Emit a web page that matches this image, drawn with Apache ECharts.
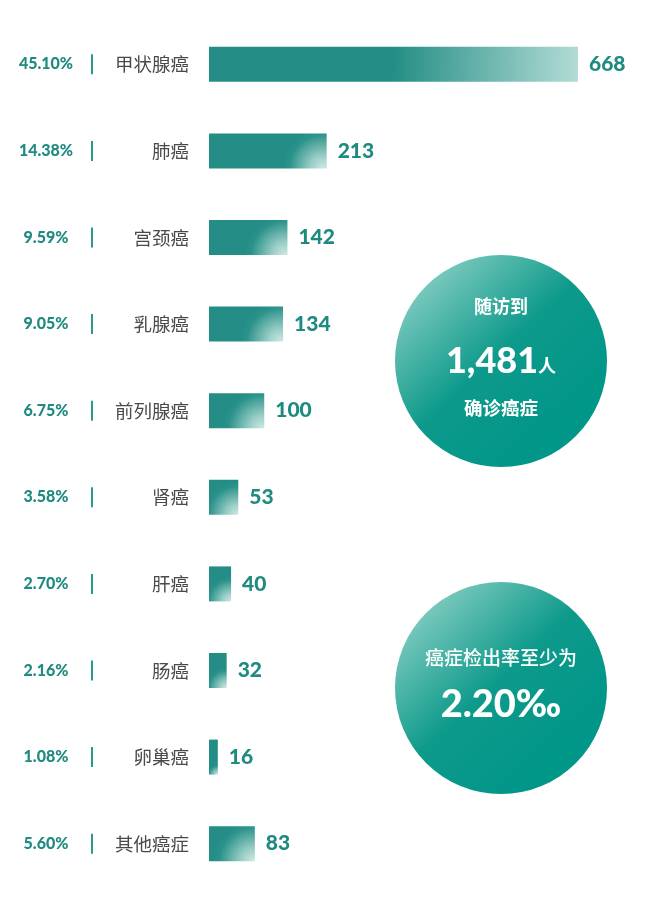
<!DOCTYPE html>
<html><head><meta charset="utf-8">
<script src="https://cdn.jsdelivr.net/npm/echarts@6/dist/echarts.min.js"></script>
<style>html,body{margin:0;padding:0;background:#fff}#c{width:652px;height:908px}</style>
</head><body><div id="c"></div>
<script>
const categories = ['甲状腺癌','肺癌','宫颈癌','乳腺癌','前列腺癌','肾癌','肝癌','肠癌','卵巢癌','其他癌症'];
const values = [668,213,142,134,100,53,40,32,16,83];
const percents = ['45.10%','14.38%','9.59%','9.05%','6.75%','3.58%','2.70%','2.16%','1.08%','5.60%'];
const circle1 = {top:'随访到', num:'1,481', unit:'人', bottom:'确诊癌症'};
const circle2 = {top:'癌症检出率至少为', num:'2.20‰'};

const NUMFONT = 'Lato, "Noto Sans", sans-serif';
const CJK = '"Noto Sans CJK SC", sans-serif';

const chart = echarts.init(document.getElementById('c'));

function barColor(p){
  if (p.dataIndex === 0) {
    return new echarts.graphic.LinearGradient(0,0,1,0.4,[
      {offset:0,color:'#248e86'},{offset:0.5,color:'#248e86'},{offset:1,color:'#b3dbd5'}]);
  }
  return {type:'radial', x:0.97, y:1, r:1.15, colorStops:[
    {offset:0,color:'#cde7e3'},{offset:0.3,color:'#9ccfc7'},{offset:0.85,color:'#2a928a'},{offset:1,color:'#248e86'}]};
}

function circleGrad(){
  return new echarts.graphic.LinearGradient(0.05,0.1,0.75,0.85,[
    {offset:0,color:'#8dd1c6'},{offset:0.55,color:'#0d9a8b'},{offset:1,color:'#009688'}]);
}

const R = 106;
function circleEls(cx, cy, texts){
  return [{type:'circle', shape:{cx:cx, cy:cy, r:R}, style:{fill:circleGrad()}}]
    .concat(texts.map(t => ({type:'text', x:cx, y:cy + t.dy, style:Object.assign({
      fill:'#fff', align:'center', verticalAlign:'middle'}, t.style)})));
}

chart.setOption({
  animation:false,
  grid:{left:209, right:74, top:21, height:866},
  xAxis:{type:'value', min:0, max:668, show:false},
  yAxis:{type:'category', inverse:true, data:categories,
    axisLine:{show:false}, axisTick:{show:false}, splitLine:{show:false},
    axisLabel:{margin:20, align:'right',
      formatter:(v,i)=>'{pct|'+percents[i]+'}{sep| }{name|'+v+'}',
      rich:{
        pct:{width:90, align:'center', fontFamily:NUMFONT, fontWeight:900, fontSize:16, color:'#1f8a80'},
        sep:{width:2, height:20, backgroundColor:'#2a9a8e'},
        name:{width:96, align:'right', fontFamily:CJK, fontSize:18.5, color:'#4a4a4a'}
      }}
  },
  series:[{type:'bar', data:values, barWidth:35,
    itemStyle:{color:barColor},
    label:{show:true, position:'right', distance:11, color:'#1f8a80',
      fontFamily:NUMFONT, fontWeight:900, fontSize:21}
  }],
  graphic: circleEls(501, 361, [
      {dy:-55, style:{text:circle1.top, font:'bold 18px '+CJK}},
      {dy:0, style:{
        text:'{n|'+circle1.num+'}{u|'+circle1.unit+'}',
        rich:{n:{font:'900 36px '+NUMFONT, fill:'#fff'},
              u:{font:'bold 18px '+CJK, fill:'#fff', padding:[8,0,0,0]}}}},
      {dy:47, style:{text:circle1.bottom, font:'bold 18.5px '+CJK}}
    ]).concat(circleEls(501, 688, [
      {dy:-30, style:{text:circle2.top, font:'500 19px '+CJK}},
      {dy:17, style:{text:circle2.num, font:'900 38px '+NUMFONT}}
    ]))
});
</script></body></html>
